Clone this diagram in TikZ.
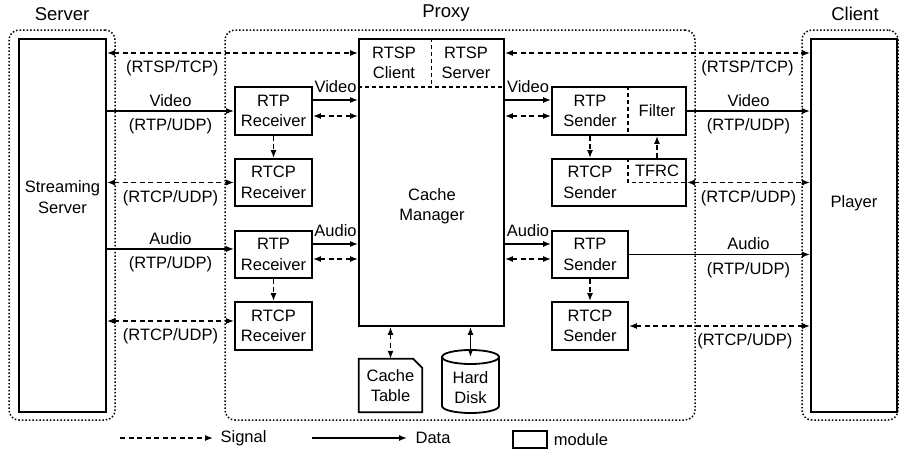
\documentclass[tikz,border=0pt]{standalone}
\usepackage{fontspec}
\setmainfont{Liberation Sans}
\usetikzlibrary{arrows.meta,positioning}

\tikzset{
  module/.style={draw, line width=1.8pt, fill=white},
  group/.style={draw, dotted, line width=1.5pt, rounded corners=10pt},
  grouptitle/.style={label distance=8pt, font=\fontsize{18.5}{22}\selectfont},
  subdiv/.style={line width=1.3pt, dash pattern=on 4pt off 3pt},
  sig/.style={line width=1.3pt, dash pattern=on 5pt off 3.5pt, >={Latex[length=8pt,width=6pt]}},
  dat/.style={line width=1.3pt, >={Latex[length=8pt,width=6pt]}},
}

\begin{document}
\begin{tikzpicture}[x=1pt,y=-1pt,
    every node/.style={font=\fontsize{16.5}{20.5}\selectfont, align=center, inner sep=0pt}]
    \useasboundingbox (0,0) rectangle (900,450);

    % dotted groups: server, proxy, client
    \node[group, minimum width=106, minimum height=390, label={[grouptitle]above:Server}] (gsrv) at (62,225) {};
    \node[group, minimum width=470, minimum height=390, label={[grouptitle, xshift=-14pt]above:Proxy}] (gproxy) at (460,225) {};
    \node[group, minimum width=96, minimum height=390, label={[grouptitle, xshift=5pt]above:Client}] (gcli) at (850,225) {};

    % end points
    \node[module, minimum width=87, minimum height=373] (ss) at (62.5,225.5) {};
    \node (sstext) at (62.5,197) {Streaming\\Server};
    \node[module, minimum width=86, minimum height=373] (pl) at (854,225.5) {};
    \node (pltext) at (854,203) {Player};

    % cache manager with rtsp parts
    \node[module, minimum width=145, minimum height=287] (cm) at (431.5,182.5) {};
    \node (cmtext) at (432,206) {Cache\\Manager};
    \node (rtspc) at (394,63) {RTSP\\Client};
    \node (rtsps) at (466,63) {RTSP\\Server};
    \coordinate (ycm) at (0,87);
    \draw[subdiv] (cm.west |- ycm) -- (cm.east |- ycm);
    \draw[subdiv] (cm.north) -- (cm.center |- ycm);

    % receivers
    \node[module, minimum width=77, minimum height=48] (rtpvr) at (273.5,111) {RTP\\Receiver};
    \node[module, minimum width=77, minimum height=47] (rtcpvr) at (273.5,182.5) {RTCP\\Receiver};
    \node[module, minimum width=77, minimum height=47] (rtpar) at (273.5,254.5) {RTP\\Receiver};
    \node[module, minimum width=77, minimum height=48] (rtcpar) at (273.5,326) {RTCP\\Receiver};

    % senders
    \coordinate (xdiv) at (628,0);
    \node[module, minimum width=134, minimum height=48] (rtpvs) at (619,111) {};
    \node (rtpvstext) at (590,111) {RTP\\Sender};
    \node (filter) at (657,111) {Filter};
    \draw[subdiv] (rtpvs.north -| xdiv) -- (rtpvs.south -| xdiv);
    \node[module, minimum width=134, minimum height=47] (rtcpvs) at (619,182.5) {};
    \node (rtcpvstext) at (590,182.5) {RTCP\\Sender};
    \node (tfrc) at (657,171) {TFRC};
    \draw[subdiv] (rtcpvs.north -| xdiv) |- (rtcpvs.east);
    \node[module, minimum width=76, minimum height=47] (rtpas) at (590,254.5) {RTP\\Sender};
    \node[module, minimum width=76, minimum height=48] (rtcpas) at (590,326) {RTCP\\Sender};

    % cache table and hard disk
    \node[minimum width=63, minimum height=53] (ct) at (390.5,385.5) {};
    \draw[line width=1.8pt] (ct.south west) -- (ct.north west) -- ([xshift=-9pt]ct.north east)
        -- ([yshift=-9pt]ct.north east) -- (ct.south east) -- cycle;
    \node at (ct) {Cache\\Table};
    \coordinate (hdtop) at (470.5,357);
    \draw[line width=1.8pt] (442,357) -- (442,406) arc[start angle=180, end angle=360, x radius=28.5pt, y radius=7pt] -- (499,357);
    \draw[line width=1.8pt] (hdtop) ellipse [x radius=28.5pt, y radius=7pt];
    \node (hd) at (470.5,387.5) {Hard\\Disk};

    % rtsp control
    \coordinate (yrtsp) at (0,53);
    \draw[sig,<->] (ss.east |- yrtsp) -- (cm.west |- yrtsp) node[below=7pt, pos=0.26] {(RTSP/TCP)};
    \draw[sig,<->] (cm.east |- yrtsp) -- (pl.west |- yrtsp) node[below=7pt, pos=0.795] {(RTSP/TCP)};

    % video path
    \coordinate (ycmd) at (0,100);
    \coordinate (ycms) at (0,116);
    \draw[dat,->] (ss.east |- rtpvr.west) -- (rtpvr.west)
        node[above=4pt, midway] {Video} node[below=7pt, midway] {(RTP/UDP)};
    \draw[dat,->] (rtpvr.east |- ycmd) -- (cm.west |- ycmd) node[above=7pt, midway] {Video};
    \draw[sig,<->] (rtpvr.east |- ycms) -- (cm.west |- ycms);
    \draw[dat,->] (cm.east |- ycmd) -- (rtpvs.west |- ycmd) node[above=7pt, midway] {Video};
    \draw[sig,<->] (cm.east |- ycms) -- (rtpvs.west |- ycms);
    \draw[dat,->] (rtpvs.east) -- (pl.west |- rtpvs.east)
        node[above=4pt, midway] {Video} node[below=7pt, midway] {(RTP/UDP)};
    \draw[sig,->] (rtpvr.south) -- (rtcpvr.north);
    \draw[sig,<->] (ss.east |- rtcpvr.west) -- (rtcpvr.west) node[below=7pt, midway] {(RTCP/UDP)};
    \draw[sig,->] (rtpvs.south -| rtpvstext) -- (rtcpvs.north -| rtpvstext);
    \draw[sig,->] (rtcpvs.north -| tfrc) -- (rtpvs.south -| tfrc);
    \draw[sig,<->] (rtcpvs.east) -- (pl.west |- rtcpvs.east) node[below=7pt, midway] {(RTCP/UDP)};

    % audio path
    \coordinate (yaud) at (0,249);
    \coordinate (yacmd) at (0,244);
    \coordinate (yacms) at (0,259);
    \coordinate (yacl) at (0,321);
    \draw[dat,->] (ss.east |- yaud) -- (rtpar.west |- yaud)
        node[above=4pt, midway] {Audio} node[below=7pt, midway] {(RTP/UDP)};
    \draw[dat,->] (rtpar.east |- yacmd) -- (cm.west |- yacmd) node[above=7pt, midway] {Audio};
    \draw[sig,<->] (rtpar.east |- yacms) -- (cm.west |- yacms);
    \draw[dat,->] (cm.east |- yacmd) -- (rtpas.west |- yacmd) node[above=7pt, midway] {Audio};
    \draw[sig,<->] (cm.east |- yacms) -- (rtpas.west |- yacms);
    \draw[dat,->] (rtpas.east) -- (pl.west |- rtpas.east)
        node[above=4pt, pos=0.66] {Audio} node[below=7pt, pos=0.66] {(RTP/UDP)};
    \draw[sig,->] (rtpar.south) -- (rtcpar.north);
    \draw[sig,<->] (ss.east |- yacl) -- (rtcpar.west |- yacl) node[below=7pt, midway] {(RTCP/UDP)};
    \draw[sig,->] (rtpas.south) -- (rtcpas.north);
    \draw[sig,<->] (rtcpas.east) -- (pl.west |- rtcpas.east) node[below=7pt, pos=0.64] {(RTCP/UDP)};

    % storage
    \draw[sig,<->] (cm.south -| ct) -- (ct.north);
    \draw[dat,<->] (cm.south -| hd) -- (hdtop);

    % legend
    \coordinate (sigA) at (120,438);
    \coordinate (sigB) at (213,438);
    \coordinate (datA) at (312,438);
    \coordinate (datB) at (407,438);
    \draw[sig,->] (sigA) -- (sigB) node[right=7pt] {Signal};
    \draw[dat,->] (datA) -- (datB) node[right=8pt] {Data};
    \node[draw, line width=1.3pt, minimum width=34, minimum height=17] (legmod) at (530,439.5) {};
    \node[right=6pt of legmod] (legtext) {module};
\end{tikzpicture}
\end{document}
